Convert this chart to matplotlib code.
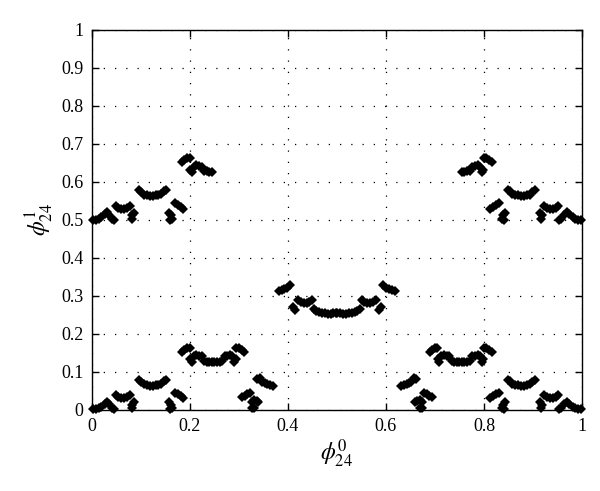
import matplotlib
matplotlib.use("Agg")
import matplotlib.pyplot as plt

# ---- left half, upper (y ~0.5-0.67) and lower (y ~0-0.17) groups share x ----
x_left_main = [0.002, 0.008, 0.014, 0.019,
               0.026, 0.031, 0.036,
               0.042, 0.046,
               0.049, 0.054, 0.060, 0.066, 0.072, 0.077,
               0.081, 0.086, 0.083,
               0.096, 0.101, 0.106, 0.112, 0.118, 0.124, 0.130, 0.136, 0.142, 0.147, 0.151,
               0.157, 0.161, 0.159, 0.164,
               0.170, 0.176, 0.182, 0.187,
               0.184, 0.189, 0.195, 0.200,
               0.201, 0.204,
               0.208, 0.213, 0.219, 0.224,
               0.229, 0.234, 0.240, 0.245]
y_upper_left = [0.500, 0.500, 0.503, 0.508,
                0.515, 0.520, 0.514,
                0.503, 0.500,
                0.538, 0.532, 0.530, 0.530, 0.532, 0.538,
                0.512, 0.518, 0.502,
                0.580, 0.574, 0.567, 0.565, 0.563, 0.563, 0.565, 0.565, 0.568, 0.575, 0.580,
                0.518, 0.512, 0.500, 0.503,
                0.545, 0.540, 0.535, 0.530,
                0.652, 0.658, 0.664, 0.664,
                0.632, 0.626,
                0.640, 0.645, 0.642, 0.640,
                0.628, 0.628, 0.625, 0.625]
y_lower_left = [0.002, 0.002, 0.005, 0.009,
                0.017, 0.022, 0.016,
                0.005, 0.002,
                0.040, 0.034, 0.032, 0.032, 0.034, 0.040,
                0.014, 0.020, 0.004,
                0.080, 0.074, 0.068, 0.066, 0.064, 0.064, 0.066, 0.066, 0.069, 0.075, 0.080,
                0.020, 0.014, 0.002, 0.005,
                0.046, 0.041, 0.036, 0.031,
                0.152, 0.158, 0.164, 0.164,
                0.133, 0.126,
                0.141, 0.146, 0.143, 0.141,
                0.128, 0.127, 0.125, 0.125]
x_left_ext = [0.250, 0.255, 0.261, 0.266, 0.271, 0.276, 0.282, 0.287,
              0.291, 0.294, 0.295, 0.300, 0.306, 0.311]
y_left_ext = [0.125, 0.125, 0.127, 0.128, 0.141, 0.143, 0.146, 0.141,
              0.126, 0.133, 0.164, 0.164, 0.158, 0.152]
x_left_low = [0.307, 0.312, 0.317, 0.322, 0.326, 0.331, 0.336, 0.340,
              0.326, 0.330, 0.338, 0.343, 0.348, 0.353, 0.358, 0.364, 0.369]
y_left_low = [0.034, 0.038, 0.042, 0.045, 0.022, 0.027, 0.024, 0.020,
              0.006, 0.004, 0.082, 0.084, 0.074, 0.070, 0.068, 0.066, 0.063]
x_mid_left = [0.381, 0.387, 0.393, 0.399, 0.405, 0.410, 0.414,
              0.420, 0.426, 0.432, 0.438, 0.444, 0.449, 0.453, 0.458,
              0.463, 0.469, 0.475, 0.481, 0.487, 0.493, 0.499]
y_mid_left = [0.312, 0.316, 0.318, 0.322, 0.328, 0.270, 0.262,
              0.290, 0.284, 0.282, 0.282, 0.285, 0.290, 0.265, 0.260,
              0.258, 0.255, 0.255, 0.253, 0.253, 0.255, 0.255]

# ---- right half ----
x_right_main = [0.998, 0.992, 0.986, 0.981,
                0.974, 0.969, 0.964,
                0.958, 0.954,
                0.951, 0.946, 0.940, 0.934, 0.928, 0.923,
                0.919, 0.914, 0.917,
                0.904, 0.899, 0.894, 0.888, 0.882, 0.876, 0.870, 0.864, 0.858, 0.853, 0.849,
                0.843, 0.839, 0.841, 0.836,
                0.830, 0.824, 0.818, 0.813,
                0.816, 0.811, 0.805, 0.800,
                0.799, 0.796,
                0.792, 0.787, 0.781, 0.776,
                0.771, 0.766, 0.760, 0.755]
y_upper_right = [0.500, 0.500, 0.503, 0.508,
                 0.515, 0.520, 0.514,
                 0.503, 0.500,
                 0.538, 0.532, 0.530, 0.530, 0.532, 0.538,
                 0.512, 0.518, 0.502,
                 0.580, 0.574, 0.567, 0.565, 0.563, 0.563, 0.565, 0.565, 0.568, 0.575, 0.580,
                 0.518, 0.512, 0.500, 0.503,
                 0.545, 0.540, 0.535, 0.530,
                 0.652, 0.658, 0.664, 0.664,
                 0.632, 0.626,
                 0.640, 0.645, 0.642, 0.640,
                 0.628, 0.628, 0.625, 0.625]
y_lower_right = [0.002, 0.002, 0.005, 0.009,
                 0.017, 0.022, 0.016,
                 0.005, 0.002,
                 0.040, 0.034, 0.032, 0.032, 0.034, 0.040,
                 0.014, 0.020, 0.004,
                 0.080, 0.074, 0.068, 0.066, 0.064, 0.064, 0.066, 0.066, 0.069, 0.075, 0.080,
                 0.020, 0.014, 0.002, 0.005,
                 0.046, 0.041, 0.036, 0.031,
                 0.152, 0.158, 0.164, 0.164,
                 0.133, 0.126,
                 0.141, 0.146, 0.143, 0.141,
                 0.128, 0.127, 0.125, 0.125]
x_right_ext = [0.750, 0.745, 0.739, 0.734, 0.729, 0.724, 0.718, 0.713,
               0.709, 0.706, 0.705, 0.700, 0.694, 0.689]
y_right_ext = [0.125, 0.125, 0.127, 0.128, 0.141, 0.143, 0.146, 0.141,
               0.126, 0.133, 0.164, 0.164, 0.158, 0.152]
x_right_low = [0.693, 0.688, 0.683, 0.678, 0.674, 0.669, 0.664, 0.660,
               0.674, 0.670, 0.662, 0.657, 0.652, 0.647, 0.642, 0.636, 0.631]
y_right_low = [0.034, 0.038, 0.042, 0.045, 0.022, 0.027, 0.024, 0.020,
               0.006, 0.004, 0.082, 0.084, 0.074, 0.070, 0.068, 0.066, 0.063]
x_mid_right = [0.619, 0.613, 0.607, 0.601, 0.595, 0.590, 0.586,
               0.580, 0.574, 0.568, 0.562, 0.556, 0.551, 0.547, 0.542,
               0.537, 0.531, 0.525, 0.519, 0.513, 0.507, 0.501]
y_mid_right = [0.312, 0.316, 0.318, 0.322, 0.328, 0.270, 0.262,
               0.290, 0.284, 0.282, 0.282, 0.285, 0.290, 0.265, 0.260,
               0.258, 0.255, 0.255, 0.253, 0.253, 0.255, 0.255]

ticks = [0, 0.2, 0.4, 0.6, 0.8, 1]
tick_labels = ["0", "0.2", "0.4", "0.6", "0.8", "1"]
yticks = [0, 0.1, 0.2, 0.3, 0.4, 0.5, 0.6, 0.7, 0.8, 0.9, 1]
ytick_labels = ["0", "0.1", "0.2", "0.3", "0.4", "0.5", "0.6", "0.7", "0.8", "0.9", "1"]

plt.rcParams["font.family"] = ["Liberation Serif", "DejaVu Serif"]
plt.rcParams["mathtext.fontset"] = "stix"

fig = plt.figure(figsize=(6.0, 4.91), dpi=100)
ax = fig.add_axes([0.153, 0.165, 0.817, 0.774])

series = [(x_left_main, y_upper_left), (x_left_main, y_lower_left),
          (x_left_ext, y_left_ext), (x_left_low, y_left_low),
          (x_mid_left, y_mid_left),
          (x_right_main, y_upper_right), (x_right_main, y_lower_right),
          (x_right_ext, y_right_ext), (x_right_low, y_right_low),
          (x_mid_right, y_mid_right)]
for xs, ys in series:
    ax.plot(xs, ys, linestyle="none", marker="D", markersize=5.4,
            color="black", markeredgewidth=0, clip_on=False, zorder=3)

ax.set_xlim(0, 1)
ax.set_ylim(0, 1)
ax.set_xticks(ticks)
ax.set_xticklabels(tick_labels)
ax.set_yticks(yticks)
ax.set_yticklabels(ytick_labels)
ax.tick_params(direction="in", length=5, width=1, labelsize=13,
               top=True, right=True, pad=6)
ax.grid(True, color="black", linestyle=(0, (1, 8)), linewidth=0.9)
for s in ax.spines.values():
    s.set_linewidth(1.0)

ax.set_xlabel(r"$\phi_{24}^{0}$", fontsize=17, labelpad=2)
ax.set_ylabel(r"$\phi_{24}^{1}$", fontsize=17, labelpad=4)

fig.savefig("out.png", dpi=100)
